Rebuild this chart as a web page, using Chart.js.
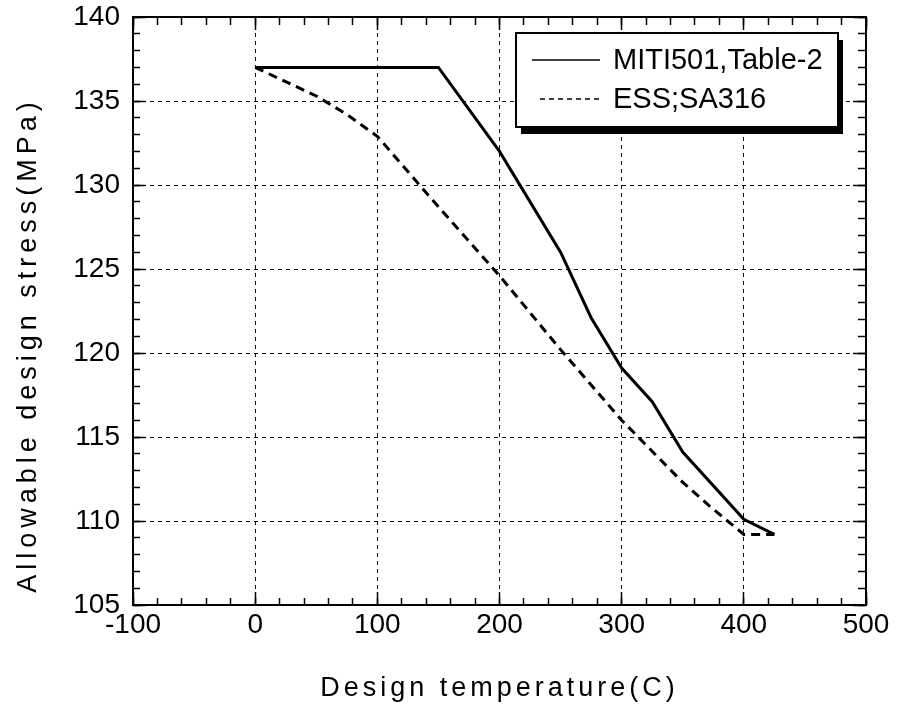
<!DOCTYPE html>
<html>
<head>
<meta charset="utf-8">
<script src="https://cdn.jsdelivr.net/npm/chart.js@4.4.1/dist/chart.umd.min.js"></script>
<style>
html,body{margin:0;padding:0;background:#fff;}
canvas{display:block;background:#fff;}
</style>
</head>
<body>
<canvas id="c" width="901" height="710"></canvas>
<script>
// ---- data ----
const seriesLabels = ['MITI501,Table-2', 'ESS;SA316'];
const mitiTemps  = [0, 150, 200, 250, 275, 300, 325, 350, 400, 425];
const mitiStress = [137.0, 137.0, 132.0, 126.0, 122.1, 119.1, 117.1, 114.1, 110.1, 109.2];
const essTemps   = [0, 50, 75, 100, 150, 200, 250, 300, 350, 375, 400, 425];
const essStress  = [137.0, 135.3, 134.2, 132.9, 128.7, 124.6, 120.2, 116.0, 112.3, 110.7, 109.2, 109.2];
const xTicks = [-100, 0, 100, 200, 300, 400, 500];
const yTicks = [105, 110, 115, 120, 125, 130, 135, 140];
const xTitle = 'Design temperature(C)';
const yTitle = 'Allowable design stress(MPa)';

const FONT = '"Liberation Sans", Arial, Helvetica, sans-serif';
const xMin = xTicks[0], xMax = xTicks[xTicks.length - 1];
const yMin = yTicks[0], yMax = yTicks[yTicks.length - 1];

function stepTicks(min, max, step) {
  const out = [];
  for (let v = min; v <= max + 1e-9; v += step) out.push({value: v});
  return out;
}

function noPad(s) { s.paddingTop = 0; s.paddingBottom = 0; s.paddingLeft = 0; s.paddingRight = 0; }

// tick-mark-only axes (inside ticks on all four sides)
function tickAxis(axis, pos, step, len, showBorder) {
  const isX = axis === 'x';
  return {
    type: 'linear', axis: axis, position: pos,
    min: isX ? xMin : yMin, max: isX ? xMax : yMax,
    afterBuildTicks: s => { s.ticks = stepTicks(isX ? xMin : yMin, isX ? xMax : yMax, step); },
    afterFit: noPad,
    ticks: {display: false},
    grid: {display: true, drawOnChartArea: false, drawTicks: true, tickLength: len,
           tickColor: '#000', tickWidth: 1.5, color: '#000'},
    border: {display: !!showBorder, color: '#000', width: 2},
    title: {display: false}
  };
}

const titleTweaks = {
  id: 'titleTweaks',
  beforeDraw(chart) {
    const cfg = {x: {ls: '4px', dx: 0, dy: 0}, y: {ls: '5px', dx: 0, dy: 34}};
    for (const id of ['x', 'y']) {
      const s = chart.scales[id];
      if (s && !s.__patched) {
        const orig = s.drawTitle;
        const c = cfg[id];
        s.drawTitle = function () {
          const ctx = this.ctx;
          ctx.save();
          ctx.letterSpacing = c.ls;
          ctx.translate(c.dx, c.dy);
          orig.call(this);
          ctx.restore();
        };
        s.__patched = true;
      }
    }
  }
};

const boxLegend = {
  id: 'boxLegend',
  afterDraw(chart) {
    const {ctx, chartArea} = chart;
    const w = 322, h = 94;
    const x = chartArea.right - 28 - w;
    const y = chartArea.top + 16;
    ctx.save();
    ctx.setLineDash([]);
    ctx.fillStyle = '#000';
    ctx.fillRect(x + 5, y + 7, w, h);
    ctx.fillStyle = '#fff';
    ctx.fillRect(x, y, w, h);
    ctx.lineWidth = 2;
    ctx.strokeStyle = '#000';
    ctx.strokeRect(x, y, w, h);
    chart.data.datasets.forEach((ds, i) => {
      const ly = y + 27 + i * 39;
      ctx.beginPath();
      ctx.lineWidth = 1.5;
      ctx.setLineDash(ds.borderDash && ds.borderDash.length ? [5, 4] : []);
      ctx.moveTo(x + (i ? 24 : 16), ly);
      ctx.lineTo(x + 84, ly);
      ctx.stroke();
      ctx.setLineDash([]);
      ctx.font = '29px ' + FONT;
      ctx.textBaseline = 'middle';
      ctx.textAlign = 'left';
      ctx.fillStyle = '#000';
      ctx.fillText(ds.label, x + 97, ly + 1);
    });
    ctx.restore();
  }
};

const gridColor = (edgeA, edgeB) => c =>
  (c.tick && (c.tick.value === edgeA || c.tick.value === edgeB)) ? 'rgba(0,0,0,0)' : '#111';

new Chart(document.getElementById('c'), {
  type: 'line',
  data: {
    datasets: [
      {
        label: seriesLabels[0],
        data: mitiTemps.map((t, i) => ({x: t, y: mitiStress[i]})),
        borderColor: '#000', borderWidth: 3, pointRadius: 0, tension: 0, fill: false,
        xAxisID: 'x', yAxisID: 'y'
      },
      {
        label: seriesLabels[1],
        data: essTemps.map((t, i) => ({x: t, y: essStress[i]})),
        borderColor: '#000', borderWidth: 3, borderDash: [9, 6], pointRadius: 0, tension: 0, fill: false,
        xAxisID: 'x', yAxisID: 'y'
      }
    ]
  },
  options: {
    responsive: false,
    animation: false,
    devicePixelRatio: 1,
    layout: {padding: {left: 0, right: 35, top: 17, bottom: 0}},
    plugins: {legend: {display: false}, tooltip: {enabled: false}},
    scales: {
      x: {
        type: 'linear', position: 'bottom', min: xMin, max: xMax,
        afterBuildTicks: s => { s.ticks = xTicks.map(v => ({value: v})); },
        afterFit: s => { s.height = 105; noPad(s); },
        ticks: {color: '#000', font: {family: FONT, size: 28}, padding: 3, autoSkip: false, maxRotation: 0},
        grid: {color: gridColor(xMin, xMax), lineWidth: 1, drawTicks: false},
        border: {display: true, color: '#000', width: 2, dash: [4, 4]},
        title: {display: true, text: xTitle, color: '#000', font: {family: FONT, size: 27}, padding: {top: 0, bottom: 5}}
      },
      y: {
        type: 'linear', position: 'left', min: yMin, max: yMax,
        afterBuildTicks: s => { s.ticks = yTicks.map(v => ({value: v})); },
        afterFit: s => { s.width = 133; noPad(s); },
        ticks: {color: '#000', font: {family: FONT, size: 28}, padding: 13},
        grid: {color: gridColor(yMin, yMax), lineWidth: 1, drawTicks: false},
        border: {display: true, color: '#000', width: 2, dash: [4, 4]},
        title: {display: true, text: yTitle, color: '#000', font: {family: FONT, size: 27}, padding: {top: 12, bottom: 0}}
      },
      xMinB: tickAxis('x', {y: yMin}, 20, -7, false),
      xMajB: tickAxis('x', {y: yMin}, 100, -13, false),
      xMinT: tickAxis('x', {y: yMax}, 20, 7, true),
      xMajT: tickAxis('x', {y: yMax}, 100, 13, false),
      yMinL: tickAxis('y', {x: xMin}, 1, -7, false),
      yMajL: tickAxis('y', {x: xMin}, 5, -13, false),
      yMinR: tickAxis('y', {x: xMax}, 1, 7, true),
      yMajR: tickAxis('y', {x: xMax}, 5, 13, false)
    }
  },
  plugins: [titleTweaks, boxLegend]
});
</script>
</body>
</html>
